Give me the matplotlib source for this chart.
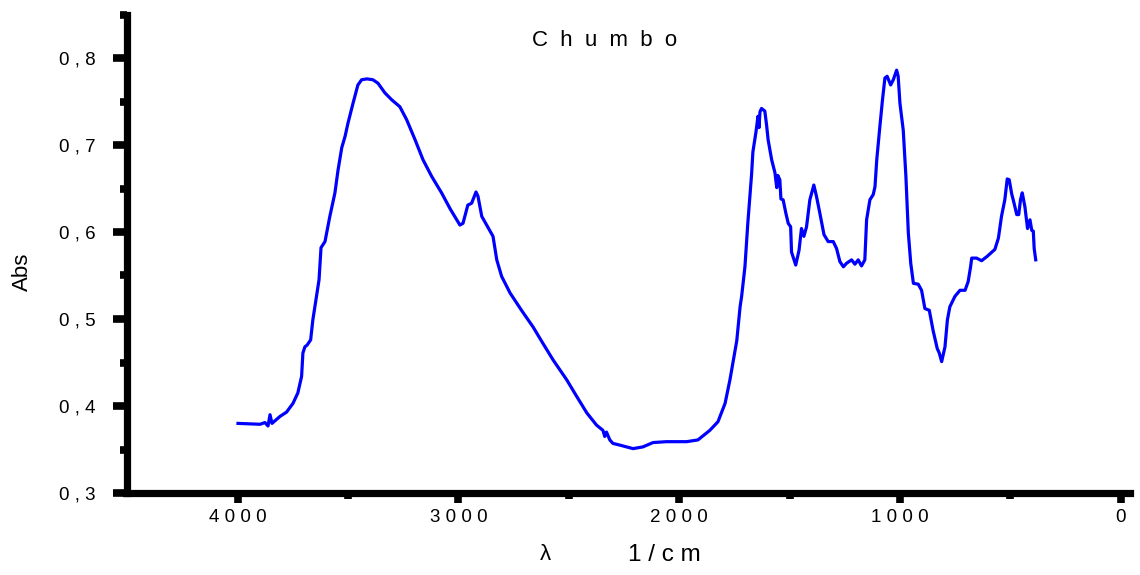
import matplotlib
matplotlib.use("Agg")
import matplotlib.pyplot as plt
import numpy as np

plt.rcParams['font.family'] = ['Liberation Sans', 'DejaVu Sans']

# wavenumber (1/cm) and absorbance
wavenumber = [3998, 3898, 3876, 3862, 3853, 3844, 3808, 3778, 3749, 3727,
              3710, 3704, 3695, 3685, 3669, 3659, 3645, 3631, 3622, 3604,
              3582, 3559, 3545, 3528, 3513, 3500, 3477, 3455, 3438, 3414,
              3387, 3364, 3333, 3302, 3265, 3234, 3196, 3160, 3121, 3076,
              3038, 2993, 2979, 2957, 2940, 2920, 2911, 2894, 2872, 2843,
              2826, 2804, 2766, 2714, 2662, 2617, 2571, 2509, 2464, 2418,
              2374, 2345, 2337, 2329, 2314, 2300, 2268, 2209, 2164, 2118,
              2057, 1966, 1915, 1861, 1824, 1792, 1770, 1756, 1739, 1724,
              1717, 1702, 1689, 1672, 1666, 1652, 1643, 1638, 1634, 1627,
              1612, 1604, 1597, 1581, 1566, 1558, 1553, 1544, 1539, 1529,
              1517, 1506, 1495, 1491, 1472, 1457, 1446, 1435, 1423, 1408,
              1390, 1378, 1363, 1344, 1325, 1302, 1287, 1272, 1256, 1242,
              1219, 1204, 1189, 1174, 1159, 1151, 1136, 1121, 1113, 1105,
              1091, 1079, 1068, 1058, 1042, 1030, 1015, 1008, 1000, 985,
              973, 962, 951, 939, 917, 902, 887, 867, 850, 831,
              822, 811, 796, 785, 774, 751, 728, 705, 691, 680,
              675, 653, 630, 605, 570, 554, 540, 525, 514, 505,
              494, 483, 471, 462, 454, 446, 434, 422, 411, 403,
              396, 392, 385]
absorbance = [0.380, 0.379, 0.381, 0.377, 0.390, 0.380, 0.388, 0.393, 0.403, 0.415,
              0.434, 0.461, 0.468, 0.470, 0.476, 0.499, 0.522, 0.545, 0.582, 0.589,
              0.618, 0.645, 0.671, 0.697, 0.710, 0.725, 0.748, 0.769, 0.775, 0.776,
              0.775, 0.771, 0.760, 0.752, 0.744, 0.729, 0.706, 0.683, 0.664, 0.645,
              0.627, 0.608, 0.610, 0.631, 0.633, 0.646, 0.641, 0.618, 0.608, 0.595,
              0.568, 0.549, 0.530, 0.510, 0.491, 0.472, 0.453, 0.430, 0.411, 0.392,
              0.378, 0.372, 0.365, 0.370, 0.361, 0.357, 0.355, 0.351, 0.353, 0.358,
              0.359, 0.359, 0.361, 0.372, 0.382, 0.403, 0.430, 0.450, 0.475, 0.514,
              0.526, 0.560, 0.610, 0.666, 0.692, 0.715, 0.733, 0.720, 0.738, 0.742,
              0.739, 0.723, 0.706, 0.683, 0.668, 0.651, 0.665, 0.660, 0.638, 0.637,
              0.622, 0.610, 0.606, 0.577, 0.562, 0.579, 0.604, 0.595, 0.606, 0.637,
              0.654, 0.641, 0.622, 0.597, 0.589, 0.589, 0.581, 0.566, 0.560, 0.564,
              0.568, 0.563, 0.568, 0.561, 0.568, 0.614, 0.637, 0.643, 0.652, 0.683,
              0.721, 0.752, 0.777, 0.779, 0.769, 0.775, 0.786, 0.779, 0.748, 0.717,
              0.664, 0.599, 0.564, 0.541, 0.540, 0.533, 0.512, 0.510, 0.487, 0.466,
              0.461, 0.451, 0.468, 0.499, 0.514, 0.526, 0.533, 0.533, 0.543, 0.560,
              0.570, 0.570, 0.567, 0.572, 0.580, 0.593, 0.618, 0.637, 0.661, 0.660,
              0.644, 0.633, 0.620, 0.620, 0.637, 0.645, 0.629, 0.604, 0.614, 0.602,
              0.601, 0.581, 0.568]

x_ticks = [4000, 3000, 2000, 1000, 0]
x_tick_labels = ["4 0 0 0", "3 0 0 0", "2 0 0 0", "1 0 0 0", "0"]
x_minor = [3500, 2500, 1500, 500]
y_ticks = [0.3, 0.4, 0.5, 0.6, 0.7, 0.8]
y_tick_labels = ["0 , 3", "0 , 4", "0 , 5", "0 , 6", "0 , 7", "0 , 8"]
y_minor = [0.35, 0.45, 0.55, 0.65, 0.75, 0.85]

W, H = 1140, 575
fig = plt.figure(figsize=(W / 100, H / 100), dpi=100)
left, right, bottom, top = 126.5, 1130, 493, 14.5
ax = fig.add_axes([left / W, 1 - bottom / H, (right - left) / W, (bottom - top) / H])

ax.plot(wavenumber, absorbance, color="#0000ff", lw=2.3, solid_joinstyle="round")
ax.set_xlim(4503, -42)
ax.set_ylim(0.3, 0.85)

for s in ["top", "right"]:
    ax.spines[s].set_visible(False)
for s in ["left", "bottom"]:
    ax.spines[s].set_linewidth(5.2)
    ax.spines[s].set_color("black")

ax.set_xticks(x_ticks)
ax.set_xticklabels(x_tick_labels)
ax.set_xticks(x_minor, minor=True)
ax.set_yticks(y_ticks)
ax.set_yticklabels(y_tick_labels)
ax.set_yticks(y_minor, minor=True)

ax.tick_params(axis="y", which="major", direction="out", length=10.4, width=5.5,
               pad=12, labelsize=13.5)
ax.tick_params(axis="y", which="minor", direction="out", length=5.4, width=5.5)
ax.tick_params(axis="x", which="major", direction="out", length=7.2, width=5.5,
               pad=4, labelsize=13.5)
ax.tick_params(axis="x", which="minor", direction="out", length=4.3, width=5.5)

fig.text(605 / W, 1 - 41 / H, "C  h  u  m  b  o", ha="center", va="center", fontsize=16)
fig.text(22 / W, 1 - 272 / H, "Abs", ha="center", va="center", rotation=90, fontsize=16)
fig.text(545 / W, 1 - 555 / H, "λ", ha="center", va="center", fontsize=16)
fig.text(628 / W, 1 - 555 / H, "1 / c m", ha="left", va="center", fontsize=17.5)

fig.savefig("out.png", dpi=100)
